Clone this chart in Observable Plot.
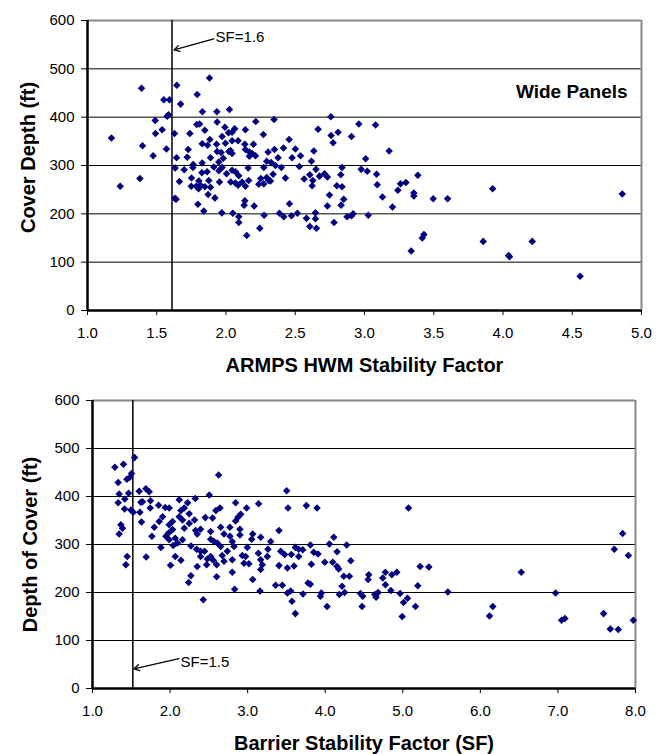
<!DOCTYPE html>
<html><head><meta charset="utf-8">
<script src="https://cdn.jsdelivr.net/npm/d3@7"></script>
<script src="https://cdn.jsdelivr.net/npm/@observablehq/plot@0.6"></script>
<style>body{margin:0;background:#fff} svg{display:block}</style>
</head><body><div id="c"></div><script>
// ---------- Top chart: ARMPS HWM stability factor vs cover depth (wide panels)
const topSF = [1.881,1.39,1.645,1.792,1.551,1.592,1.672,1.830,1.934,2.025,1.585,1.575,1.489,1.936,1.789,1.809,1.992,1.847,1.539,1.491,1.628,1.739,1.173,1.972,2.018,1.883,1.828,1.867,1.932,1.996,1.397,1.570,1.727,1.936,1.965,2.021,1.474,1.643,1.720,1.888,1.980,1.948,1.828,1.763,1.912,1.972,1.633,1.698,1.761,1.948,1.864,2.004,1.751,1.826,1.378,1.664,1.804,1.953,1.876,1.236,1.749,1.785,1.816,1.847,1.888,1.802,1.871,1.920,1.631,1.640,1.797,1.840,1.970,
2.044,2.063,2.140,2.215,2.347,2.270,2.044,2.087,2.136,2.198,2.032,2.140,2.169,2.188,2.213,2.044,2.169,2.304,2.350,2.415,2.456,2.501,2.477,2.538,2.634,2.665,2.757,2.759,2.809,2.773,2.906,2.617,2.294,2.326,2.376,2.357,2.400,2.273,2.160,2.044,2.068,2.530,2.650,2.838,2.429,2.251,2.294,2.309,2.340,2.564,2.605,2.627,2.675,2.711,2.732,2.829,2.092,2.034,2.068,2.116,2.140,2.087,2.164,2.237,2.273,2.321,2.622,2.800,2.838,2.747,2.850,2.831,2.732,2.136,2.131,2.203,2.458,2.049,2.092,2.092,2.275,2.386,2.417,2.473,2.516,2.581,2.646,2.646,2.605,2.653,2.780,2.874,2.906,2.918,2.244,2.150,
2.959,3.080,3.178,3.008,2.976,3.020,3.087,3.092,3.130,3.241,3.260,3.299,3.385,3.356,3.356,3.202,3.027,3.496,3.600,3.925,4.861,3.429,3.417,3.337,3.857,4.040,4.047,4.211,4.557];
const topDepth = [481,460,466,447,436,436,427,411,411,416,405,402,393,390,385,386,379,373,374,366,366,366,357,360,368,354,345,342,344,346,341,334,333,329,327,329,320,316,317,316,315,307,305,302,297,296,295,291,296,289,287,283,274,285,273,267,268,266,269,257,257,257,259,256,255,252,240,233,232,230,220,206,202,
369,376,374,391,395,364,351,351,344,344,331,333,328,325,320,325,319,328,333,336,354,334,316,320,330,375,401,362,369,347,360,309,309,306,316,300,296,296,295,290,287,298,292,296,274,273,275,269,282,272,281,269,278,283,276,281,279,266,264,266,257,259,269,261,262,268,258,258,256,239,230,218,216,227,218,216,221,201,194,182,197,201,194,196,201,191,202,190,174,170,182,194,196,200,170,155,
386,384,330,314,292,288,282,260,235,249,262,265,280,243,237,214,197,231,231,252,241,157,150,123,143,114,111,143,71];

// ---------- Bottom chart: barrier stability factor vs depth of cover
const barrierSF = [1.542,1.288,1.400,1.503,1.443,1.482,1.331,1.344,1.465,1.417,1.602,1.688,1.731,1.331,1.413,1.495,1.525,1.624,1.645,1.748,1.744,1.852,1.938,1.989,2.118,2.226,1.611,1.632,1.366,1.387,1.344,1.903,1.860,1.796,1.766,2.032,1.989,2.140,2.183,2.118,2.161,2.032,1.981,2.247,2.247,2.183,1.989,2.067,2.097,1.946,1.882,2.041,2.269,2.161,2.067,2.140,2.006,1.447,1.430,1.692,2.269,2.239,
2.626,3.503,2.505,2.325,2.845,3.142,2.987,3.520,2.643,2.591,2.910,2.875,2.454,2.548,2.316,2.845,2.652,2.772,2.901,2.329,2.393,2.350,2.523,2.695,2.772,3.065,3.168,2.901,3.404,2.523,2.566,3.052,3.297,2.802,2.824,2.609,2.342,2.393,2.445,2.652,2.996,3.262,2.738,3.138,3.426,3.477,2.523,2.480,2.673,2.931,2.974,2.393,2.557,2.600,2.471,2.695,2.802,2.953,3.017,3.168,3.189,3.168,3.254,2.350,3.404,3.512,2.802,2.600,3.065,2.832,3.159,3.361,3.447,3.512,2.428,
3.757,3.895,4.110,4.054,3.809,4.277,3.615,3.658,3.710,3.563,3.852,3.907,3.658,4.153,3.994,4.097,4.329,3.598,3.822,4.153,4.174,4.239,4.312,4.561,4.553,4.776,4.742,4.776,3.778,3.809,4.217,3.555,3.572,3.714,3.950,3.938,4.183,4.251,4.454,4.484,4.639,4.682,4.656,4.024,4.475,3.615,
5.074,5.224,5.336,4.859,4.923,4.846,4.966,5.194,5.581,5.061,5.009,5.164,4.992,
6.118,6.161,6.527,6.970,7.047,7.090,7.589,7.675,7.778,7.727,7.834,7.908,7.972];
const barrierDepth = [481,461,467,448,436,440,429,405,407,395,411,416,410,387,374,372,367,388,389,391,376,382,377,376,393,387,367,347,341,334,322,358,348,336,317,348,341,371,376,358,351,331,324,364,344,334,310,313,303,317,294,298,297,310,275,267,257,275,258,274,235,221,
445,412,403,396,387,385,376,376,376,371,363,357,356,355,351,349,336,336,332,329,332,322,327,322,317,322,315,320,329,311,306,311,306,306,296,303,290,286,286,296,294,290,286,282,286,279,275,270,277,277,275,275,267,258,258,265,268,261,260,268,258,248,275,254,256,251,242,233,227,207,203,215,215,199,185,
381,376,315,301,299,299,294,290,289,279,284,280,275,285,263,263,266,255,259,254,249,234,234,237,227,242,230,216,220,217,213,203,182,197,199,192,196,200,198,192,196,200,190,171,171,156,
376,254,253,237,242,204,198,214,201,188,179,171,150,
151,171,242,199,142,146,156,124,123,290,323,277,142];

// ---------- Axes / annotations
const depthTicks = [0,100,200,300,400,500,600];
const gridDepths = [100,200,300,400,500];
const topSFTicks = [1.0,1.5,2.0,2.5,3.0,3.5,4.0,4.5,5.0];
const barrierSFTicks = [1,2,3,4,5,6,7,8];
const topLimit = [1.61];        // SF=1.6 line
const barrierLimit = [1.52];    // SF=1.5 line
const topNote = [{label: "SF=1.6", x: 1.925, y: 565, x1: 1.912, y1: 562, x2: 1.625, y2: 539}];
const barrierNote = [{label: "SF=1.5", x: 2.135, y: 54, x1: 2.114, y1: 62, x2: 1.535, y2: 41}];
const panelNote = [{label: "Wide Panels", x: 4.9, y: 452}];

const fmt = d3.format(".1f");
const navy = "#000080";
const diamond = {draw(ctx, size){ const r = Math.sqrt(size/2); ctx.moveTo(0,-r); ctx.lineTo(r,0); ctx.lineTo(0,r); ctx.lineTo(-r,0); ctx.closePath(); }};
const chartStyle = {fontFamily: "'Liberation Sans', Arial, sans-serif", fontSize: "15px", color: "#000", background: "#fff", overflow: "visible"};

function chart({xs, ys, xDomain, xTicks, height, mL, mR, mT, mB, limit, note, xTitle, yTitle, xTitleDy, yTitleDx, yTitleDy, extra}) {
  return Plot.plot({
    width: 669, height, marginLeft: mL, marginRight: mR, marginTop: mT, marginBottom: mB,
    style: chartStyle,
    x: {domain: xDomain, ticks: xTicks, tickFormat: fmt, tickSize: 5, tickPadding: 12, label: null},
    y: {domain: [0,600], ticks: depthTicks, tickSize: 6, tickPadding: 7, label: null},
    marks: [
      Plot.ruleY(gridDepths, {stroke: "#000", strokeWidth: 1}),
      Plot.ruleY([600], {stroke: "#888", strokeWidth: 2}),
      Plot.ruleX([xDomain[1]], {stroke: "#888", strokeWidth: 2}),
      Plot.ruleX(limit, {stroke: "#000", strokeWidth: 1.5}),
      Plot.dot(xs, {x: d => d, y: (d, i) => ys[i], symbol: diamond, r: 3, fill: navy, stroke: "none"}),
      Plot.ruleX([xDomain[0]], {stroke: "#000", strokeWidth: 2.5}),
      Plot.ruleY([0], {stroke: "#000", strokeWidth: 2.5}),
      Plot.arrow(note, {x1: "x1", y1: "y1", x2: "x2", y2: "y2", stroke: "#000", strokeWidth: 1.3, headLength: 7}),
      Plot.text(note, {x: "x", y: "y", text: "label", textAnchor: "start", fontSize: 15}),
      ...(extra || []),
      Plot.text([xTitle], {frameAnchor: "bottom", lineAnchor: "middle", textAnchor: "middle", dy: xTitleDy, fontSize: 20, fontWeight: "bold"}),
      Plot.text([yTitle], {frameAnchor: "left", lineAnchor: "middle", textAnchor: "middle", dx: yTitleDx, dy: yTitleDy, rotate: -90, fontSize: 20, fontWeight: "bold"})
    ]
  });
}

const topChart = chart({xs: topSF, ys: topDepth, xDomain: [1,5], xTicks: topSFTicks, height: 378, mL: 87, mR: 28, mT: 20, mB: 68,
  limit: topLimit, note: topNote, xTitle: "ARMPS HWM Stability Factor", yTitle: "Cover Depth (ft)", xTitleDy: 55, yTitleDx: -59, yTitleDy: -8,
  extra: [Plot.text(panelNote, {x: "x", y: "y", text: "label", textAnchor: "end", fontSize: 19, fontWeight: "bold"})]});
const bottomChart = chart({xs: barrierSF, ys: barrierDepth, xDomain: [1,8], xTicks: barrierSFTicks, height: 376, mL: 92, mR: 34, mT: 22, mB: 66,
  limit: barrierLimit, note: barrierNote, xTitle: "Barrier Stability Factor (SF)", yTitle: "Depth of Cover (ft)", xTitleDy: 55, yTitleDx: -62, yTitleDy: 0});
document.getElementById("c").append(topChart, bottomChart);
</script></body></html>
